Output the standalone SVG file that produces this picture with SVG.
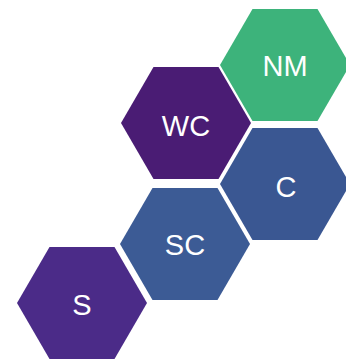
<svg xmlns="http://www.w3.org/2000/svg" width="346" height="361" viewBox="0 0 346 361">
<style>
.lbl{font-family:"Liberation Sans",Arial,sans-serif;font-size:29px;fill:#ffffff;text-anchor:middle}
</style>
<defs>
<polygon id="hex" points="-65,0 -32.5,-56 32.5,-56 65,0 32.5,56 -32.5,56"/>
</defs>
<rect width="346" height="361" fill="#ffffff"/>
<g id="connectors"/>
<g id="S" transform="translate(82,303)">
<use href="#hex" fill="#4B2B88"/>
<text class="lbl" x="0" y="12">S</text>
</g>
<g id="SC" transform="translate(185,244)">
<use href="#hex" fill="#3C5B95"/>
<text class="lbl" x="0" y="11">SC</text>
</g>
<g id="WC" transform="translate(186,123)">
<use href="#hex" fill="#4A1C74"/>
<text class="lbl" x="0" y="13">WC</text>
</g>
<g id="C" transform="translate(285,184)">
<use href="#hex" fill="#3A5792"/>
<text class="lbl" x="1" y="13">C</text>
</g>
<g id="NM" transform="translate(285,65)">
<use href="#hex" fill="#3DB37B"/>
<text class="lbl" x="0" y="11">NM</text>
</g>
</svg>
